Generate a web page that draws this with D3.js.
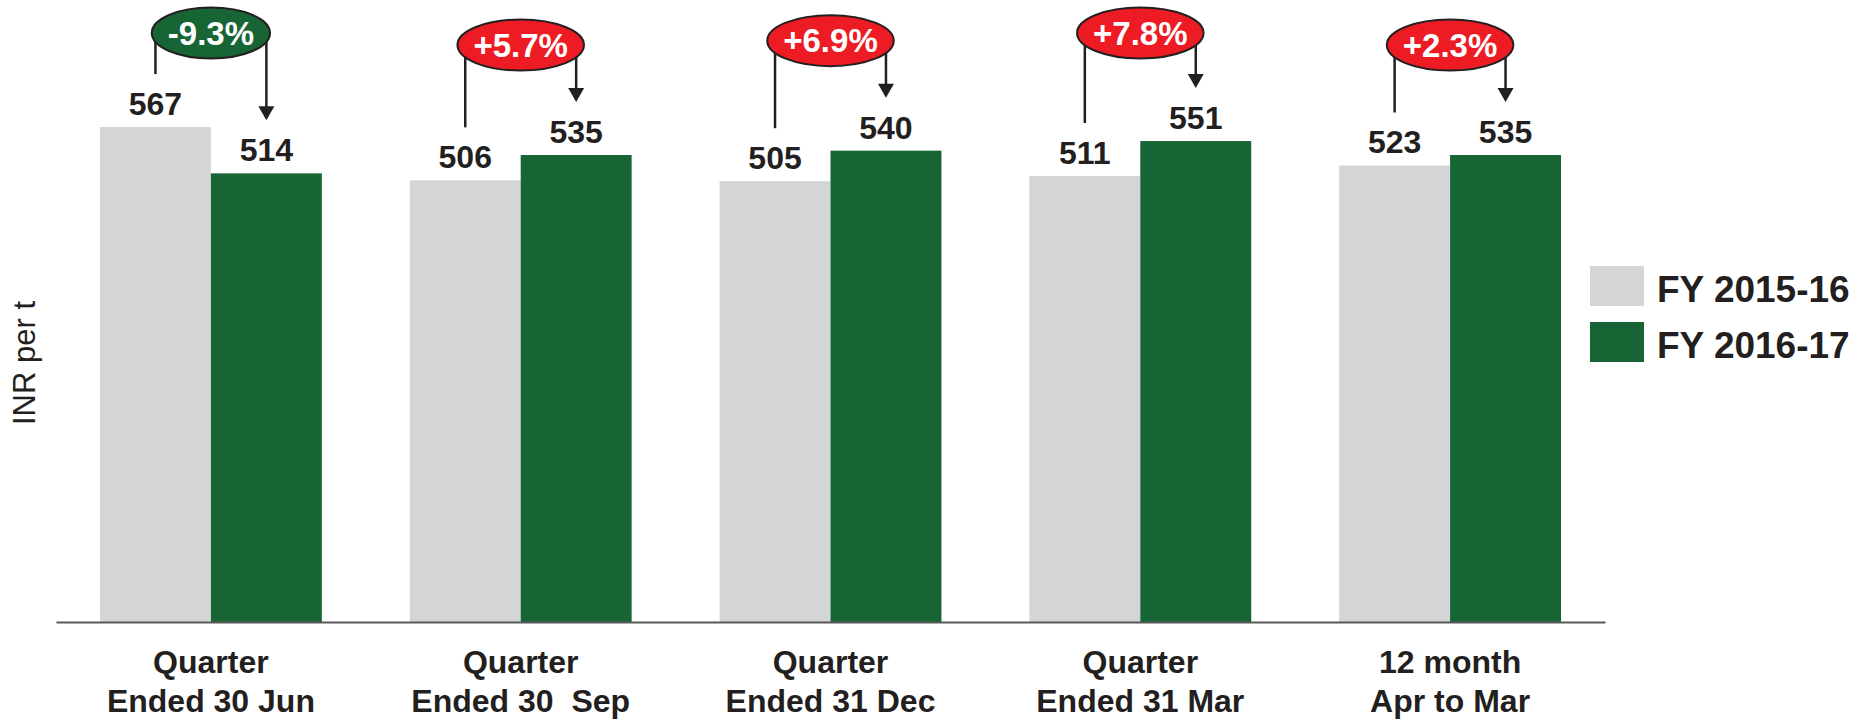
<!DOCTYPE html>
<html>
<head>
  <meta charset="utf-8">
  <script src="https://d3js.org/d3.v7.min.js"></script>
  <style>
    body { margin: 0; background: #fff; }
    text { font-family: "Liberation Sans", Arial, sans-serif; fill: #231f20; }
  </style>
</head>
<body>
<script>
  'use strict';

  // data
  var categories = ['q1', 'q2', 'q3', 'q4', 'fy'];
  var catLabels = [
    ['Quarter', 'Ended 30 Jun'],
    ['Quarter', 'Ended 30  Sep'],
    ['Quarter', 'Ended 31 Dec'],
    ['Quarter', 'Ended 31 Mar'],
    ['12 month', 'Apr to Mar']
  ];
  var seriesNames = ['FY 2015-16', 'FY 2016-17'];
  var fy16 = [567, 506, 505, 511, 523];
  var fy17 = [514, 535, 540, 551, 535];
  var changes = ['-9.3%', '+5.7%', '+6.9%', '+7.8%', '+2.3%'];

  var colors = ['#d4d5d7', '#176534'];
  var red = '#ed1c24';

  var width = 1871, height = 719;

  var svg = d3.select('body').append('svg')
    .attr('width', width)
    .attr('height', height);

  var x = d3.scaleBand()
    .domain(categories)
    .range([56, 1605])
    .paddingInner(0.2839)
    .paddingOuter(0.142);

  var xs = d3.scaleBand()
    .domain(seriesNames)
    .range([0, x.bandwidth()]);

  var y = d3.scaleLinear()
    .domain([0, 700])
    .range([622, 11]);

  var rows = categories.map(function(c, i) {
    return {cat: c, vals: [fy16[i], fy17[i]], change: changes[i], label: catLabels[i]};
  });

  // bars
  var groups = svg.selectAll('g.grp')
    .data(rows)
    .enter().append('g')
      .attr('class', 'grp')
      .attr('transform', function(d) { return 'translate(' + x(d.cat) + ',0)'; });

  groups.selectAll('rect')
    .data(function(d) { return d.vals.map(function(v, j) { return {name: seriesNames[j], v: v, j: j}; }); })
    .enter().append('rect')
      .attr('x', function(d) { return xs(d.name); })
      .attr('y', function(d) { return y(d.v); })
      .attr('width', xs.bandwidth())
      .attr('height', function(d) { return y(0) - y(d.v); })
      .attr('fill', function(d) { return colors[d.j]; });

  // value labels
  groups.selectAll('text.val')
    .data(function(d) { return d.vals.map(function(v, j) { return {name: seriesNames[j], v: v}; }); })
    .enter().append('text')
      .attr('class', 'val')
      .attr('x', function(d) { return xs(d.name) + xs.bandwidth() / 2; })
      .attr('y', function(d) { return y(d.v) - 12; })
      .attr('text-anchor', 'middle')
      .style('font-size', '32px')
      .style('font-weight', 'bold')
      .text(function(d) { return d.v; });

  // x axis
  var xAxis = svg.append('g')
    .attr('transform', 'translate(0,' + y(0) + ')')
    .call(d3.axisBottom(x).tickSize(0).tickFormat(''));
  xAxis.select('.domain').attr('stroke', '#595959').attr('stroke-width', 2);

  xAxis.selectAll('.tick text').each(function(c) {
    var i = categories.indexOf(c);
    var t = d3.select(this)
      .attr('y', 0).attr('dy', null)
      .style('font-size', '32px')
      .style('font-weight', 'bold')
      .style('white-space', 'pre')
      .attr('fill', '#231f20');
    catLabels[i].forEach(function(line, k) {
      t.append('tspan').attr('x', 0).attr('y', 51 + k * 38.5).text(line);
    });
  });

  // y axis title
  svg.append('text')
    .attr('transform', 'translate(35,363) rotate(-90)')
    .attr('text-anchor', 'middle')
    .style('font-size', '31px')
    .text('INR per t');

  // change annotations
  rows.forEach(function(d) {
    var g = svg.append('g');
    var cx = x(d.cat) + x.bandwidth() / 2;
    var x0 = x(d.cat) + xs(seriesNames[0]) + xs.bandwidth() / 2;
    var x1 = x(d.cat) + xs(seriesNames[1]) + xs.bandwidth() / 2;
    var cy = Math.max(33, Math.min(y(d.vals[0]), y(d.vals[1])) - 110);

    g.append('line')
      .attr('x1', x0).attr('x2', x0)
      .attr('y1', cy).attr('y2', y(d.vals[0]) - 53)
      .attr('stroke', '#231f20').attr('stroke-width', 2.5);

    g.append('line')
      .attr('x1', x1).attr('x2', x1)
      .attr('y1', cy).attr('y2', y(d.vals[1]) - 53 - 13)
      .attr('stroke', '#231f20').attr('stroke-width', 2.5);
    g.append('path')
      .attr('d', 'M' + (x1 - 8) + ',' + (y(d.vals[1]) - 53 - 14) + ' l16,0 l-8,14 Z')
      .attr('fill', '#231f20');

    var neg = d.change.charAt(0) === '-';
    var el = g.append('ellipse')
      .attr('cx', cx).attr('cy', cy)
      .attr('ry', 25.5)
      .attr('fill', neg ? colors[1] : red)
      .attr('stroke', '#231f20').attr('stroke-width', 2);

    var t = g.append('text')
      .attr('x', cx).attr('y', cy + 11.5)
      .attr('text-anchor', 'middle')
      .style('font-size', '33px')
      .style('font-weight', 'bold')
      .style('fill', '#fff')
      .text(d.change);
    var w = t.node().getComputedTextLength();
    el.attr('rx', w / 2 + 16);
  });

  // legend
  var legend = svg.append('g').attr('transform', 'translate(1590,266)');
  var items = legend.selectAll('g')
    .data(seriesNames)
    .enter().append('g')
      .attr('transform', function(d, i) { return 'translate(0,' + i * 56 + ')'; });
  items.append('rect')
    .attr('width', 54).attr('height', 40)
    .attr('fill', function(d, i) { return colors[i]; });
  items.append('text')
    .attr('x', 67).attr('y', 36)
    .style('font-size', '37px')
    .style('font-weight', 'bold')
    .text(function(d) { return d; });
</script>
</body>
</html>
